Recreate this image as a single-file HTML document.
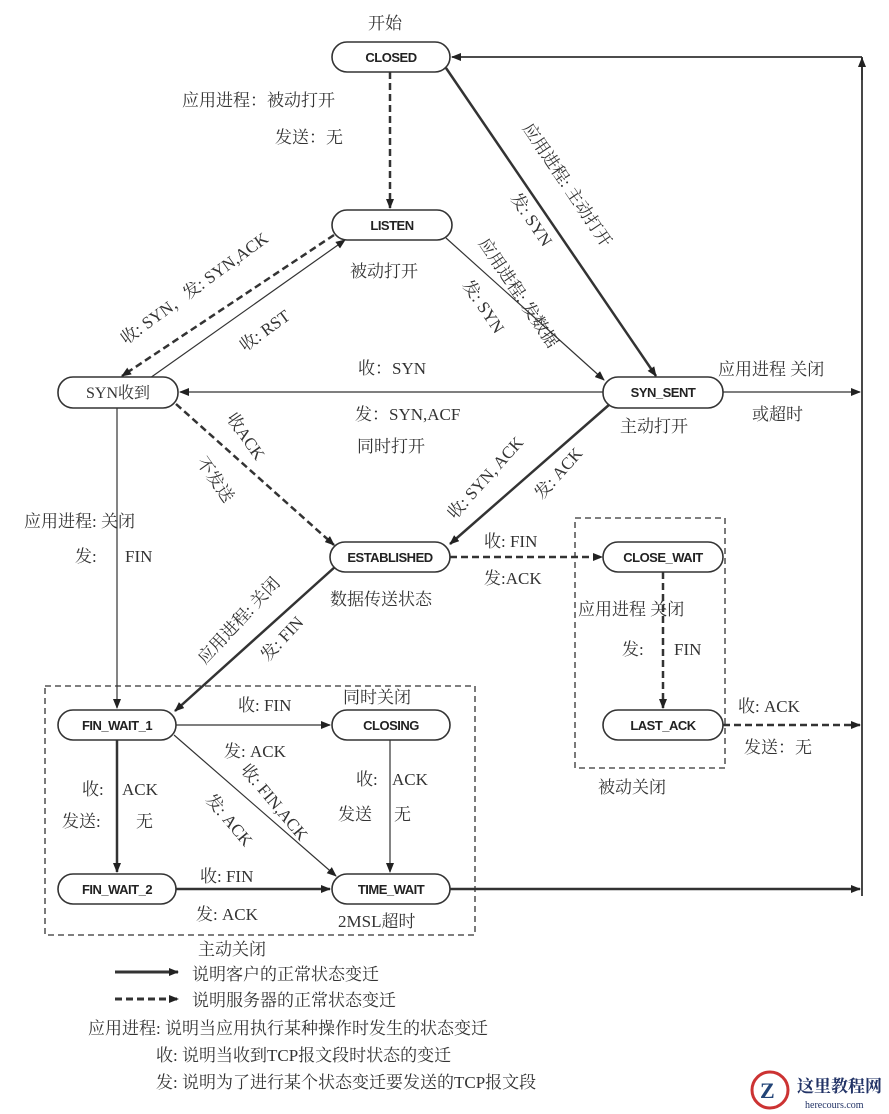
<!DOCTYPE html>
<html><head><meta charset="utf-8"><style>
html,body{margin:0;padding:0;background:#fff;}
svg{display:block;}
text{font-family:"Liberation Serif","Noto Serif CJK SC",serif;fill:#333;font-size:17px;}
.n{font-family:"Liberation Sans","Noto Sans CJK SC",sans-serif;font-size:13px;font-weight:bold;fill:#222;letter-spacing:-0.5px;}
</style></head><body>
<svg width="889" height="1114" viewBox="0 0 889 1114" xmlns="http://www.w3.org/2000/svg">
<defs>
<marker id="a" markerWidth="10" markerHeight="8" refX="9" refY="4" orient="auto" markerUnits="userSpaceOnUse"><path d="M0,0 L10,4 L0,8 z" fill="#222"/></marker>
</defs>
<g fill="none" stroke="#333">
<!-- dashed boxes -->
<rect x="575" y="518" width="150" height="250" stroke-dasharray="6,4" stroke-width="1.3"/>
<rect x="45" y="686" width="430" height="249" stroke-dasharray="6,4" stroke-width="1.3"/>
<!-- right vertical -->
<line x1="862" y1="896" x2="862" y2="57" stroke-width="1.8"/>
<line x1="862" y1="57" x2="452" y2="57" stroke-width="1.8" marker-end="url(#a)"/>
<line x1="862" y1="80" x2="862" y2="58" stroke-width="1.8" marker-end="url(#a)"/>
<!-- CLOSED -> LISTEN dashed -->
<line x1="390" y1="72" x2="390" y2="208" stroke-width="2.5" stroke-dasharray="7,4" marker-end="url(#a)"/>
<!-- CLOSED -> SYN_SENT -->
<line x1="446" y1="68" x2="656" y2="376" stroke-width="2.5" marker-end="url(#a)"/>
<!-- LISTEN -> SYN_SENT -->
<line x1="446" y1="238" x2="604" y2="380" stroke-width="1.2" marker-end="url(#a)"/>
<!-- LISTEN -> SYN收到 dashed -->
<line x1="334" y1="235" x2="122" y2="376" stroke-width="2.5" stroke-dasharray="7,4" marker-end="url(#a)"/>
<!-- SYN收到 -> LISTEN RST -->
<line x1="150" y1="378" x2="345" y2="240" stroke-width="1.2" marker-end="url(#a)"/>
<!-- SYN_SENT -> SYN收到 -->
<line x1="603" y1="392" x2="180" y2="392" stroke-width="1.2" marker-end="url(#a)"/>
<!-- SYN_SENT -> right -->
<line x1="723" y1="392" x2="860" y2="392" stroke-width="1.2" marker-end="url(#a)"/>
<!-- SYN收到 -> ESTABLISHED dashed -->
<line x1="176" y1="404" x2="334" y2="545" stroke-width="2.5" stroke-dasharray="7,4" marker-end="url(#a)"/>
<!-- SYN_SENT -> ESTABLISHED -->
<line x1="610" y1="404" x2="450" y2="544" stroke-width="2.5" marker-end="url(#a)"/>
<!-- SYN收到 -> FIN_WAIT_1 -->
<line x1="117" y1="408" x2="117" y2="708" stroke-width="1.2" marker-end="url(#a)"/>
<!-- ESTABLISHED -> CLOSE_WAIT -->
<line x1="450" y1="557" x2="602" y2="557" stroke-width="2.5" stroke-dasharray="7,4" marker-end="url(#a)"/>
<!-- ESTABLISHED -> FIN_WAIT_1 -->
<line x1="336" y1="566" x2="175" y2="711" stroke-width="2.5" marker-end="url(#a)"/>
<!-- CLOSE_WAIT -> LAST_ACK -->
<line x1="663" y1="572" x2="663" y2="708" stroke-width="2.5" stroke-dasharray="7,4" marker-end="url(#a)"/>
<!-- LAST_ACK -> right -->
<line x1="723" y1="725" x2="860" y2="725" stroke-width="2.5" stroke-dasharray="7,4" marker-end="url(#a)"/>
<!-- FIN_WAIT_1 -> CLOSING -->
<line x1="176" y1="725" x2="330" y2="725" stroke-width="1.2" marker-end="url(#a)"/>
<!-- FIN_WAIT_1 -> TIME_WAIT -->
<line x1="174" y1="735" x2="336" y2="876" stroke-width="1.2" marker-end="url(#a)"/>
<!-- CLOSING -> TIME_WAIT -->
<line x1="390" y1="740" x2="390" y2="872" stroke-width="1.2" marker-end="url(#a)"/>
<!-- FIN_WAIT_1 -> FIN_WAIT_2 -->
<line x1="117" y1="740" x2="117" y2="872" stroke-width="2.5" marker-end="url(#a)"/>
<!-- FIN_WAIT_2 -> TIME_WAIT -->
<line x1="176" y1="889" x2="330" y2="889" stroke-width="2.5" marker-end="url(#a)"/>
<!-- TIME_WAIT -> right -->
<line x1="450" y1="889" x2="860" y2="889" stroke-width="2.5" marker-end="url(#a)"/>
<!-- legend -->
<line x1="115" y1="972" x2="178" y2="972" stroke-width="3" marker-end="url(#a)"/>
<line x1="115" y1="999" x2="178" y2="999" stroke-width="3" stroke-dasharray="7,4" marker-end="url(#a)"/>
</g>
<g fill="#fff" stroke="#333" stroke-width="1.6">
<rect x="332" y="42" width="118" height="30" rx="15"/>
<rect x="332" y="210" width="120" height="30" rx="15"/>
<rect x="58" y="377" width="120" height="31" rx="15"/>
<rect x="603" y="377" width="120" height="31" rx="15"/>
<rect x="330" y="542" width="120" height="30" rx="15"/>
<rect x="603" y="542" width="120" height="30" rx="15"/>
<rect x="603" y="710" width="120" height="30" rx="15"/>
<rect x="58" y="710" width="118" height="30" rx="15"/>
<rect x="332" y="710" width="118" height="30" rx="15"/>
<rect x="58" y="874" width="118" height="30" rx="15"/>
<rect x="332" y="874" width="118" height="30" rx="15"/>
</g>
<g text-anchor="middle">
<text class="n" x="391" y="62">CLOSED</text>
<text class="n" x="392" y="230">LISTEN</text>
<text x="118" y="398" style="font-size:16px">SYN收到</text>
<text class="n" x="663" y="397">SYN_SENT</text>
<text class="n" x="390" y="562">ESTABLISHED</text>
<text class="n" x="663" y="562">CLOSE_WAIT</text>
<text class="n" x="663" y="730">LAST_ACK</text>
<text class="n" x="117" y="730">FIN_WAIT_1</text>
<text class="n" x="391" y="730">CLOSING</text>
<text class="n" x="117" y="894">FIN_WAIT_2</text>
<text class="n" x="391" y="894">TIME_WAIT</text>
</g>
<text x="368" y="29">开始</text>
<text x="182" y="106">应用进程：被动打开</text>
<text x="275" y="143">发送：无</text>
<text x="350" y="277">被动打开</text>
<text x="358" y="374">收：SYN</text>
<text x="355" y="420">发：SYN,ACF</text>
<text x="357" y="452">同时打开</text>
<text x="718" y="375">应用进程 关闭</text>
<text x="752" y="420">或超时</text>
<text x="620" y="432">主动打开</text>
<text x="24" y="527">应用进程: 关闭</text>
<text x="75" y="562">发:</text><text x="125" y="562">FIN</text>
<text x="484" y="547">收: FIN</text>
<text x="484" y="584">发:ACK</text>
<text x="330" y="605">数据传送状态</text>
<text x="578" y="615">应用进程 关闭</text>
<text x="622" y="655">发:</text><text x="674" y="655">FIN</text>
<text x="738" y="712">收: ACK</text>
<text x="744" y="753">发送：无</text>
<text x="598" y="793">被动关闭</text>
<text x="343" y="703">同时关闭</text>
<text x="238" y="711">收: FIN</text>
<text x="224" y="757">发: ACK</text>
<text x="82" y="795">收:</text><text x="122" y="795">ACK</text>
<text x="62" y="827">发送:</text><text x="136" y="827">无</text>
<text x="356" y="785">收:</text><text x="392" y="785">ACK</text>
<text x="338" y="820">发送</text><text x="394" y="820">无</text>
<text x="200" y="882">收: FIN</text>
<text x="196" y="920">发: ACK</text>
<text x="338" y="927">2MSL超时</text>
<text x="198" y="955">主动关闭</text>
<text x="192" y="980">说明客户的正常状态变迁</text>
<text x="192" y="1006">说明服务器的正常状态变迁</text>
<text x="88" y="1034">应用进程: 说明当应用执行某种操作时发生的状态变迁</text>
<text x="156" y="1061">收: 说明当收到TCP报文段时状态的变迁</text>
<text x="156" y="1088">发: 说明为了进行某个状态变迁要发送的TCP报文段</text>
<!-- rotated labels -->
<text transform="translate(522,128) rotate(56)">应用进程:  主动打开</text>
<text transform="translate(510,198) rotate(56)">发: SYN</text>
<text transform="translate(478,243) rotate(56)">应用进程: 发数据</text>
<text transform="translate(462,285) rotate(56)">发: SYN</text>
<text transform="translate(126,345) rotate(-36)">收: SYN，发: SYN,ACK</text>
<text transform="translate(245,352) rotate(-36)">收: RST</text>
<text transform="translate(226,418) rotate(55)">收ACK</text>
<text transform="translate(196,462) rotate(55)">不发送</text>
<text transform="translate(455,520) rotate(-48)">收: SYN, ACK</text>
<text transform="translate(542,500) rotate(-48)">发: ACK</text>
<text transform="translate(205,665) rotate(-47)">应用进程: 关闭</text>
<text transform="translate(268,662) rotate(-47)">发: FIN</text>
<text transform="translate(240,770) rotate(50)">收: FIN,ACK</text>
<text transform="translate(205,800) rotate(50)">发: ACK</text>
<!-- watermark -->
<circle cx="770" cy="1090" r="18" fill="none" stroke="#c33" stroke-width="3"/>
<text x="760" y="1098" style="font-size:22px;font-weight:bold;fill:#247">Z</text>
<text x="797" y="1092" style="font-size:17px;font-weight:bold;fill:#236">这里教程网</text>
<text x="805" y="1108" style="font-size:10px;fill:#236">herecours.com</text>
</svg>
</body></html>
